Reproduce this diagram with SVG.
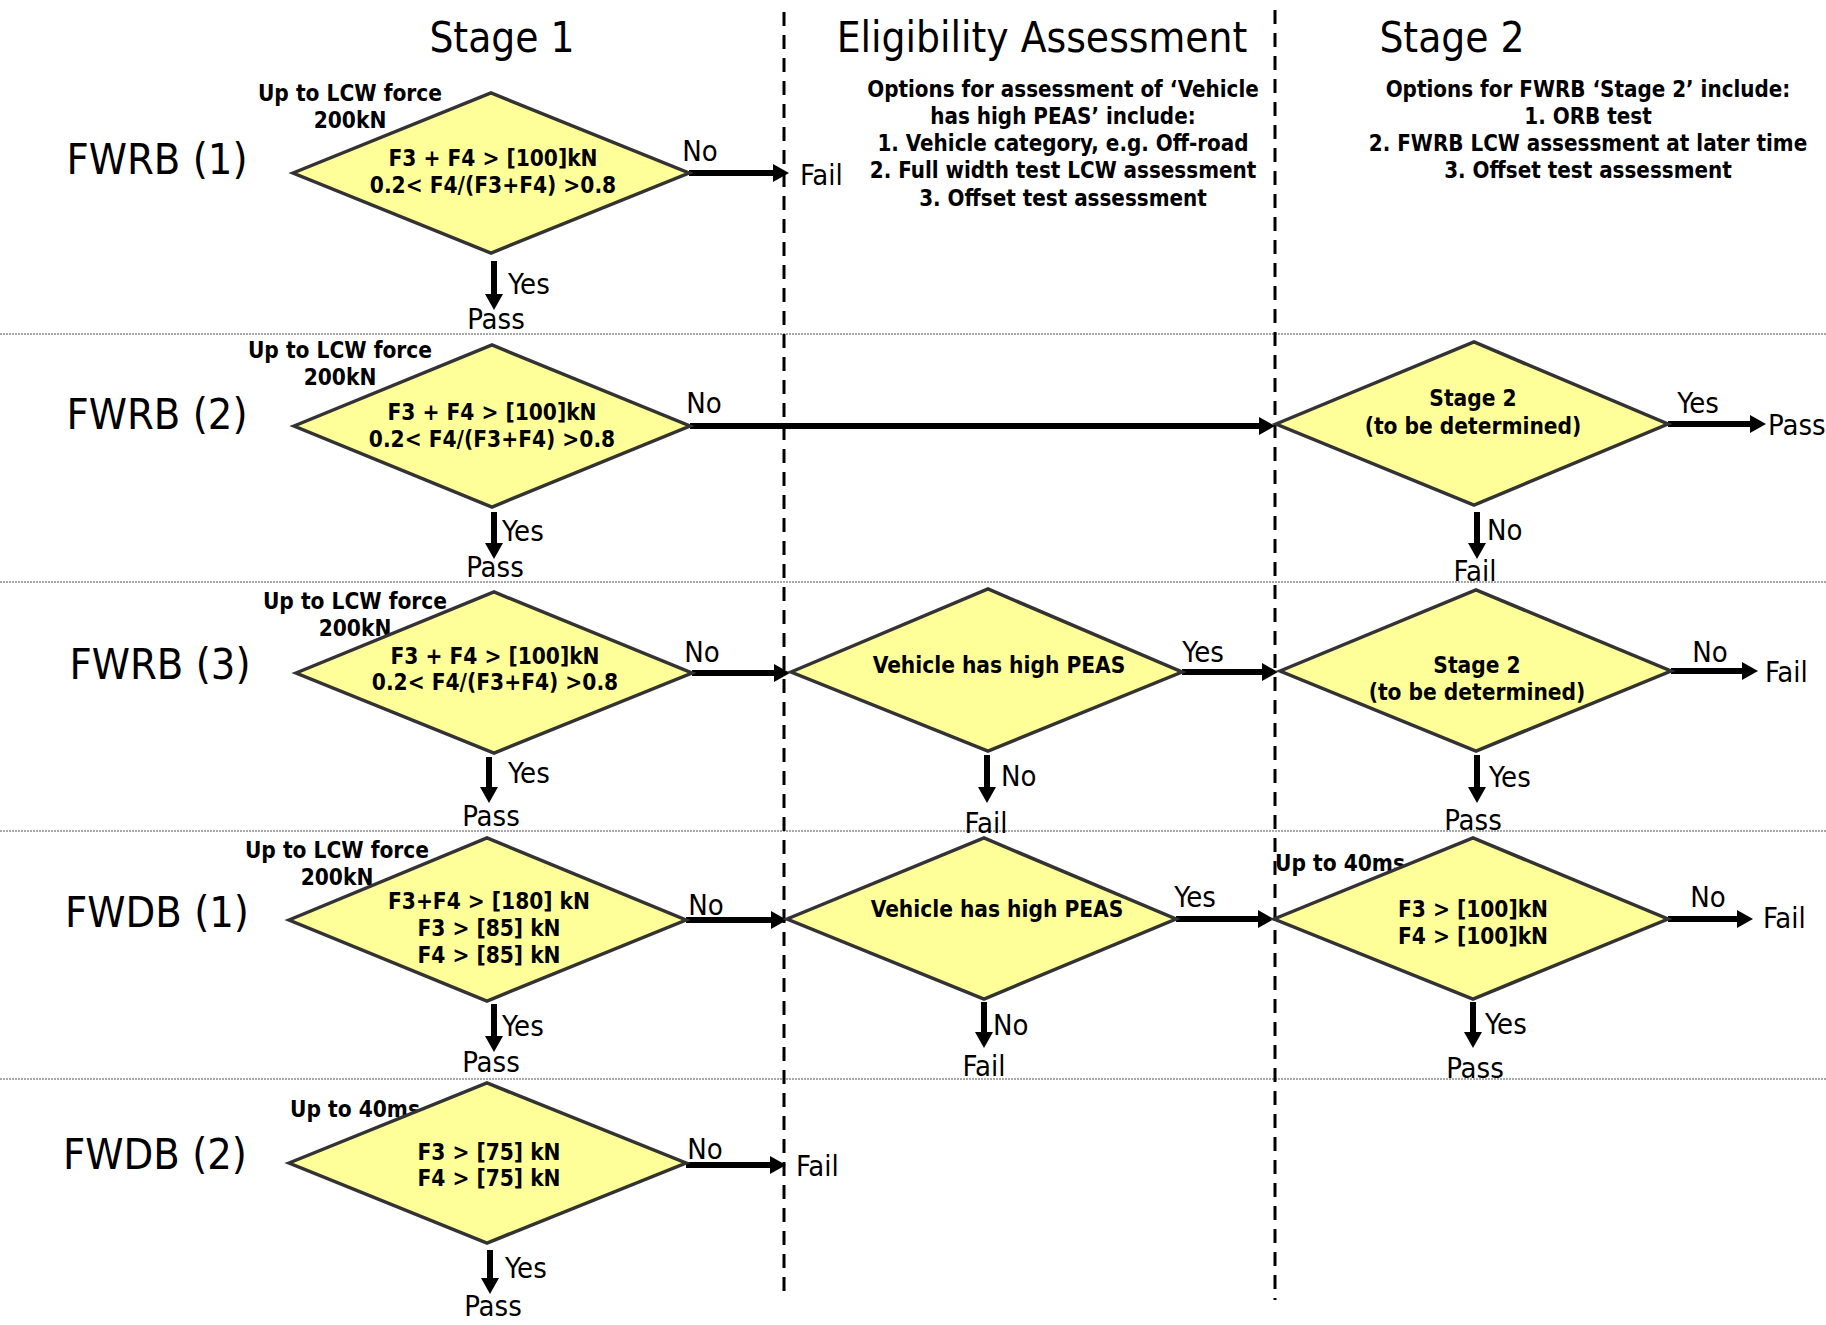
<svg xmlns="http://www.w3.org/2000/svg" width="1826" height="1325" viewBox="0 0 1826 1325">
<defs>
<style>
text{font-family:"DejaVu Sans Condensed","DejaVu Sans",sans-serif;fill:#000;dominant-baseline:central}
.title{font-size:42px;text-anchor:middle}
.row{font-size:43px;text-anchor:middle}
.lbl{font-size:29px}
.c{text-anchor:middle}
.b{font-weight:bold;font-size:22.5px;text-anchor:middle}
.note{font-weight:bold;font-size:22.2px;text-anchor:middle}
.dia{fill:#FFFF99;stroke:#333;stroke-width:3.5;stroke-linejoin:miter}
.arr{stroke:#000;stroke-width:6;fill:none;marker-end:url(#ah)}
.sep{stroke:#8a8a8a;stroke-width:1.3;stroke-dasharray:2 1}
.vdash{stroke:#000;stroke-width:3;stroke-dasharray:14 9}
</style>
<marker id="ah" markerUnits="userSpaceOnUse" markerWidth="20" markerHeight="20" refX="2" refY="9" orient="auto">
<path d="M0,0 L16,9 L0,18 z" fill="#000"/>
</marker>
</defs>
<rect width="1826" height="1325" fill="#fff"/>

<g id="grid">
<line class="sep" x1="0" y1="334" x2="1826" y2="334"/>
<line class="sep" x1="0" y1="582" x2="1826" y2="582"/>
<line class="sep" x1="0" y1="831" x2="1826" y2="831"/>
<line class="sep" x1="0" y1="1079" x2="1826" y2="1079"/>
<line class="vdash" x1="784" y1="12" x2="784" y2="1298"/>
<line class="vdash" x1="1275" y1="10" x2="1275" y2="1300"/>
</g>

<g id="headers">
<text class="title" x="502" y="37">Stage 1</text>
<text class="title" x="1042" y="37">Eligibility Assessment</text>
<text class="title" x="1452" y="37">Stage 2</text>
<text class="note" x="1063" y="89">Options for assessment of ‘Vehicle</text>
<text class="note" x="1063" y="116">has high PEAS’ include:</text>
<text class="note" x="1063" y="143">1. Vehicle category, e.g. Off-road</text>
<text class="note" x="1063" y="170">2. Full width test LCW assessment</text>
<text class="note" x="1063" y="198">3. Offset test assessment</text>
<text class="note" x="1588" y="89">Options for FWRB ‘Stage 2’ include:</text>
<text class="note" x="1588" y="116">1. ORB test</text>
<text class="note" x="1588" y="143">2. FWRB LCW assessment at later time</text>
<text class="note" x="1588" y="170">3. Offset test assessment</text>
</g>

<g id="row-labels">
<text class="row" x="157" y="159">FWRB (1)</text>
<text class="row" x="157" y="414">FWRB (2)</text>
<text class="row" x="160" y="664">FWRB (3)</text>
<text class="row" x="157" y="912">FWDB (1)</text>
<text class="row" x="155" y="1154">FWDB (2)</text>
</g>

<g id="connectors">
<line class="arr" x1="689" y1="173" x2="775" y2="173"/>
<line class="arr" x1="494" y1="261" x2="494" y2="296"/>
<line class="arr" x1="690" y1="426" x2="1261" y2="426"/>
<line class="arr" x1="494" y1="512" x2="494" y2="545"/>
<line class="arr" x1="1668" y1="424" x2="1752" y2="424"/>
<line class="arr" x1="1477" y1="512" x2="1477" y2="545"/>
<line class="arr" x1="692" y1="673" x2="776" y2="673"/>
<line class="arr" x1="489" y1="757" x2="489" y2="789"/>
<line class="arr" x1="1182" y1="672" x2="1264" y2="672"/>
<line class="arr" x1="987" y1="755" x2="987" y2="789"/>
<line class="arr" x1="1671" y1="671" x2="1744" y2="671"/>
<line class="arr" x1="1477" y1="755" x2="1477" y2="789"/>
<line class="arr" x1="686" y1="920" x2="773" y2="920"/>
<line class="arr" x1="494" y1="1004" x2="494" y2="1038"/>
<line class="arr" x1="1176" y1="919" x2="1260" y2="919"/>
<line class="arr" x1="984" y1="1002" x2="984" y2="1034"/>
<line class="arr" x1="1668" y1="919" x2="1739" y2="919"/>
<line class="arr" x1="1473" y1="1002" x2="1473" y2="1034"/>
<line class="arr" x1="686" y1="1165" x2="772" y2="1165"/>
<line class="arr" x1="490" y1="1250" x2="490" y2="1280"/>
</g>

<g id="fwrb1">
<text class="b" x="350" y="93">Up to LCW force</text>
<text class="b" x="350" y="120">200kN</text>
<polygon class="dia" points="293,173 491,93 689,173 491,253"/>
<text class="b" x="493" y="158">F3 + F4 &gt; [100]kN</text>
<text class="b" x="493" y="185">0.2&lt; F4/(F3+F4) &gt;0.8</text>
<text class="lbl c" x="700" y="151">No</text>
<text class="lbl" x="800" y="175">Fail</text>
<text class="lbl" x="508" y="284">Yes</text>
<text class="lbl c" x="496" y="319">Pass</text>
</g>

<g id="fwrb2">
<text class="b" x="340" y="350">Up to LCW force</text>
<text class="b" x="340" y="377">200kN</text>
<polygon class="dia" points="294,426 492,345 690,426 492,507"/>
<text class="b" x="492" y="412">F3 + F4 &gt; [100]kN</text>
<text class="b" x="492" y="439">0.2&lt; F4/(F3+F4) &gt;0.8</text>
<text class="lbl c" x="704" y="403">No</text>
<text class="lbl" x="502" y="531">Yes</text>
<text class="lbl c" x="495" y="567">Pass</text>
</g>

<g id="stage2-2">
<polygon class="dia" points="1276,424 1474,342 1668,424 1474,505"/>
<text class="b" x="1473" y="398">Stage 2</text>
<text class="b" x="1473" y="426">(to be determined)</text>
<text class="lbl c" x="1698" y="403">Yes</text>
<text class="lbl" x="1768" y="425">Pass</text>
<text class="lbl" x="1487" y="530">No</text>
<text class="lbl c" x="1475" y="571">Fail</text>
</g>

<g id="fwrb3">
<text class="b" x="355" y="601">Up to LCW force</text>
<text class="b" x="355" y="628">200kN</text>
<polygon class="dia" points="296,673 494,592 692,673 494,753"/>
<text class="b" x="495" y="656">F3 + F4 &gt; [100]kN</text>
<text class="b" x="495" y="682">0.2&lt; F4/(F3+F4) &gt;0.8</text>
<text class="lbl c" x="702" y="652">No</text>
<text class="lbl" x="508" y="773">Yes</text>
<text class="lbl c" x="491" y="816">Pass</text>
</g>

<g id="elig3">
<polygon class="dia" points="791,672 988,589 1182,672 988,751"/>
<text class="b" x="999" y="665">Vehicle has high PEAS</text>
<text class="lbl c" x="1203" y="652">Yes</text>
<text class="lbl" x="1001" y="776">No</text>
<text class="lbl c" x="986" y="823">Fail</text>
</g>

<g id="stage2-3">
<polygon class="dia" points="1280,671 1476,590 1671,671 1476,751"/>
<text class="b" x="1477" y="665">Stage 2</text>
<text class="b" x="1477" y="692">(to be determined)</text>
<text class="lbl c" x="1710" y="652">No</text>
<text class="lbl" x="1765" y="672">Fail</text>
<text class="lbl" x="1489" y="777">Yes</text>
<text class="lbl c" x="1473" y="820">Pass</text>
</g>

<g id="fwdb1">
<text class="b" x="337" y="850">Up to LCW force</text>
<text class="b" x="337" y="877">200kN</text>
<polygon class="dia" points="289,920 487,838 686,920 487,1001"/>
<text class="b" x="489" y="901">F3+F4 &gt; [180] kN</text>
<text class="b" x="489" y="928">F3 &gt; [85] kN</text>
<text class="b" x="489" y="955">F4 &gt; [85] kN</text>
<text class="lbl c" x="706" y="905">No</text>
<text class="lbl" x="502" y="1026">Yes</text>
<text class="lbl c" x="491" y="1062">Pass</text>
</g>

<g id="elig4">
<polygon class="dia" points="787,919 984,838 1176,919 984,999"/>
<text class="b" x="997" y="909">Vehicle has high PEAS</text>
<text class="lbl c" x="1195" y="897">Yes</text>
<text class="lbl" x="993" y="1025">No</text>
<text class="lbl c" x="984" y="1066">Fail</text>
</g>

<g id="stage2-4">
<text class="b" x="1340" y="863">Up to 40ms</text>
<polygon class="dia" points="1274,919 1473,838 1668,919 1473,999"/>
<text class="b" x="1473" y="909">F3 &gt; [100]kN</text>
<text class="b" x="1473" y="936">F4 &gt; [100]kN</text>
<text class="lbl c" x="1708" y="897">No</text>
<text class="lbl" x="1763" y="918">Fail</text>
<text class="lbl" x="1485" y="1024">Yes</text>
<text class="lbl c" x="1475" y="1068">Pass</text>
</g>

<g id="fwdb2">
<text class="b" x="355" y="1109">Up to 40ms</text>
<polygon class="dia" points="289,1163 487,1083 686,1163 487,1243"/>
<text class="b" x="489" y="1152">F3 &gt; [75] kN</text>
<text class="b" x="489" y="1178">F4 &gt; [75] kN</text>
<text class="lbl c" x="705" y="1149">No</text>
<text class="lbl" x="796" y="1166">Fail</text>
<text class="lbl" x="505" y="1268">Yes</text>
<text class="lbl c" x="493" y="1306">Pass</text>
</g>
</svg>
